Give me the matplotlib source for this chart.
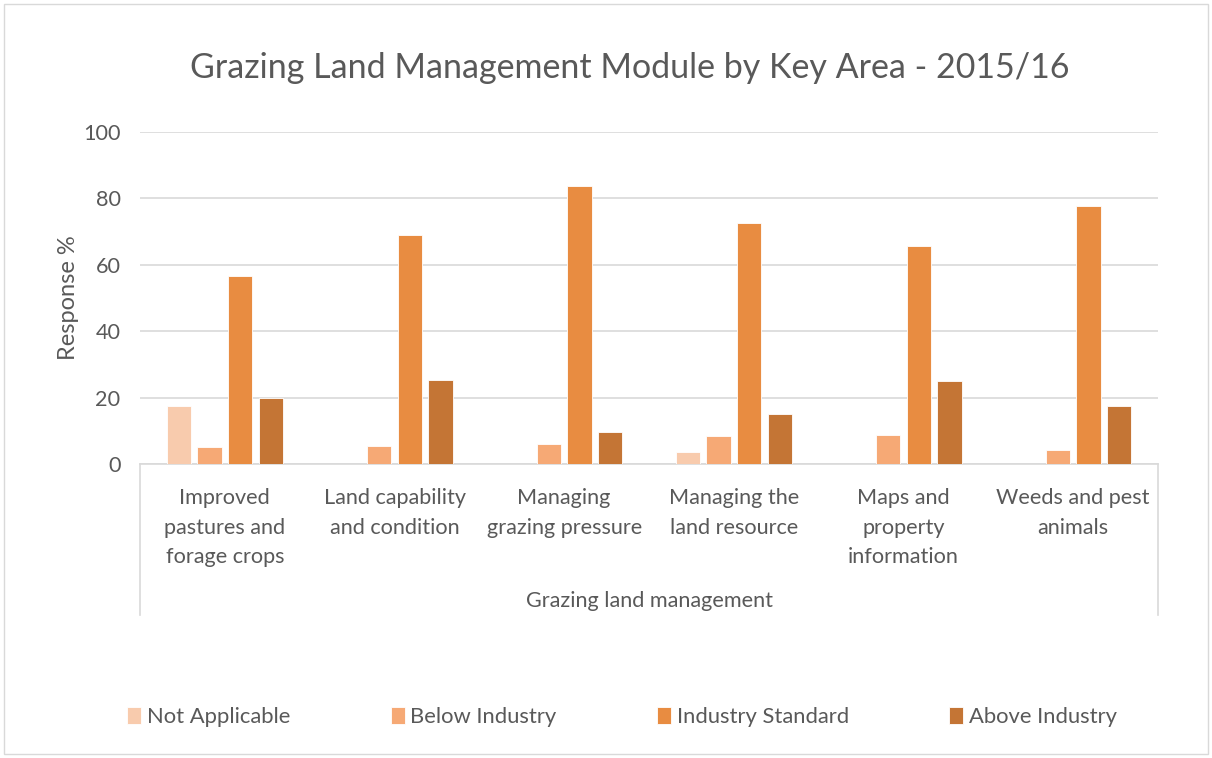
import matplotlib.pyplot as plt
import matplotlib.patches as mpatches
import numpy as np

plt.rcParams['font.family'] = ['Lato', 'DejaVu Sans']

categories = ['Improved\npastures and\nforage crops', 'Land capability\nand condition',
              'Managing\ngrazing pressure', 'Managing the\nland resource',
              'Maps and\nproperty\ninformation', 'Weeds and pest\nanimals']
series_names = ['Not Applicable', 'Below Industry', 'Industry Standard', 'Above Industry']
not_applicable = [17.6, 0, 0, 3.5, 0, 0]
below_industry = [5.1, 5.3, 6.0, 8.3, 8.7, 4.3]
industry_standard = [56.6, 69.0, 83.6, 72.6, 65.8, 77.6]
above_industry = [19.9, 25.3, 9.6, 15.0, 25.0, 17.5]
colors = ['#F8CBAD', '#F6A975', '#E88C41', '#C47535']

grey = '#595959'
fs = 15.6
fig = plt.figure(figsize=(12.12, 7.58), dpi=100)
fig.patches.append(mpatches.Rectangle((4 / 1212, 4 / 758), 1204 / 1212, 750 / 758,
                                      transform=fig.transFigure, fill=False,
                                      edgecolor='#D9D9D9', linewidth=1))
ax = fig.add_axes([140 / 1212, 1 - 464 / 758, 1018 / 1212, 332 / 758])

x = np.arange(len(categories)) + 0.5
step = 0.181
width = 0.143
data = [not_applicable, below_industry, industry_standard, above_industry]
for i, (vals, name, c) in enumerate(zip(data, series_names, colors)):
    ax.bar(x + (i - 1.5) * step, vals, width, color=c, label=name,
           edgecolor='white', linewidth=0.6, zorder=3)

ax.set_xlim(0, 6)
ax.set_ylim(0, 100)
ax.set_yticks(range(0, 101, 20))
ax.grid(axis='y', color='#D9D9D9', linewidth=1.2, zorder=0)
for s in ['top', 'right', 'left']:
    ax.spines[s].set_visible(False)
ax.spines['bottom'].set_color('#D9D9D9')
ax.spines['bottom'].set_linewidth(1.2)
ax.tick_params(axis='y', length=0, labelsize=fs, labelcolor=grey, pad=14)
ax.tick_params(axis='x', length=0, labelsize=fs, labelcolor=grey, pad=17)
ax.set_xticks(x)
ax.set_xticklabels(categories, linespacing=1.62, va='top')

# category box lines
trans = ax.get_xaxis_transform()
for xv in [0, 6]:
    ax.plot([xv, xv], [0, -0.455], color='#D9D9D9', linewidth=1.2,
            transform=trans, clip_on=False)

ax.text(3, -0.413, 'Grazing land management', transform=trans, ha='center',
        va='center', fontsize=fs, color=grey)
ax.set_ylabel('Response %', fontsize=17, color=grey, labelpad=3)

fig.suptitle('Grazing Land Management Module by Key Area - 2015/16',
             x=630 / 1212, y=1 - 68 / 758, va='center', fontsize=24.5, color=grey)

fig.legend(loc='center', bbox_to_anchor=(622 / 1212, 1 - 717 / 758), ncol=4,
           frameon=False, fontsize=15.8, labelcolor=grey, handlelength=0.65,
           handleheight=0.85, handletextpad=0.25, columnspacing=4.57)

fig.savefig('out.png', dpi=100)
